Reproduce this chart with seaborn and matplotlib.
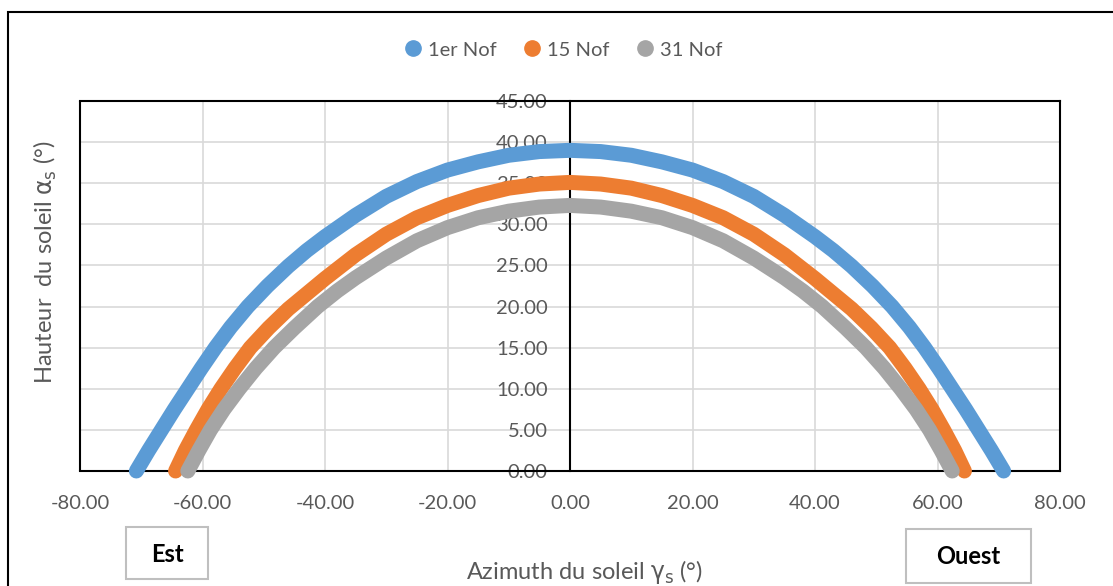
import numpy as np
import pandas as pd
import matplotlib
matplotlib.use("Agg")
import matplotlib.pyplot as plt
import seaborn as sns
from matplotlib.lines import Line2D
from matplotlib.patches import Rectangle
from matplotlib.ticker import FormatStrFormatter

# values (azimuth in deg, sun height in deg)
dates = ['1er Nof', '15 Nof', '31 Nof']
colors = ['#5B9BD5', '#ED7D31', '#A5A5A5']

az_1nov = [-70.8, -68.8, -66.7, -64.6, -62.4, -60.2, -57.9, -55.4, -52.6, -49.4, -46.0,
           -43.0, -40.0, -35.0, -30.0, -25.0, -20.0, -15.0, -10.0, -5.0, 0.0,
           5.0, 10.0, 15.0, 20.0, 25.0, 30.0, 35.0, 40.0, 43.0, 46.0,
           49.4, 52.6, 55.4, 57.9, 60.2, 62.4, 64.6, 66.7, 68.8, 70.8]
h_1nov = [0.0, 2.5, 5.0, 7.5, 10.0, 12.5, 15.0, 17.5, 20.0, 22.5, 24.9,
          26.8, 28.5, 31.1, 33.4, 35.2, 36.6, 37.6, 38.4, 38.85, 39.0,
          38.85, 38.4, 37.6, 36.6, 35.2, 33.4, 31.1, 28.5, 26.8, 24.9,
          22.5, 20.0, 17.5, 15.0, 12.5, 10.0, 7.5, 5.0, 2.5, 0.0]

az_15nov = [-64.4, -62.8, -61.0, -59.1, -57.0, -54.7, -52.2, -49.2, -46.0, -43.0,
            -40.0, -35.0, -30.0, -25.0, -20.0, -15.0, -10.0, -5.0, 0.0,
            5.0, 10.0, 15.0, 20.0, 25.0, 30.0, 35.0, 40.0,
            43.0, 46.0, 49.2, 52.2, 54.7, 57.0, 59.1, 61.0, 62.8, 64.4]
h_15nov = [0.0, 2.5, 5.0, 7.5, 10.0, 12.5, 15.0, 17.4, 19.7, 21.55,
           23.4, 26.3, 28.8, 30.8, 32.3, 33.5, 34.4, 34.9, 35.1,
           34.9, 34.4, 33.5, 32.3, 30.8, 28.8, 26.3, 23.4,
           21.55, 19.7, 17.4, 15.0, 12.5, 10.0, 7.5, 5.0, 2.5, 0.0]

az_31nov = [-62.4, -60.6, -58.7, -56.5, -54.0, -51.3, -48.3, -45.0, -41.2,
            -38.0, -35.0, -30.0, -25.0, -20.0, -15.0, -10.0, -5.0, 0.0,
            5.0, 10.0, 15.0, 20.0, 25.0, 30.0, 35.0, 38.0,
            41.2, 45.0, 48.3, 51.3, 54.0, 56.5, 58.7, 60.6, 62.4]
h_31nov = [0.0, 2.5, 5.0, 7.5, 10.0, 12.5, 15.0, 17.4, 20.0,
           21.9, 23.5, 25.9, 28.0, 29.6, 30.8, 31.6, 32.1, 32.3,
           32.1, 31.6, 30.8, 29.6, 28.0, 25.9, 23.5, 21.9,
           20.0, 17.4, 15.0, 12.5, 10.0, 7.5, 5.0, 2.5, 0.0]

x_ticks = [-80, -60, -40, -20, 0, 20, 40, 60, 80]
y_ticks = [0, 5, 10, 15, 20, 25, 30, 35, 40, 45]

df = pd.concat([
    pd.DataFrame({'azimut': az_1nov, 'hauteur': h_1nov, 'date': dates[0]}),
    pd.DataFrame({'azimut': az_15nov, 'hauteur': h_15nov, 'date': dates[1]}),
    pd.DataFrame({'azimut': az_31nov, 'hauteur': h_31nov, 'date': dates[2]}),
], ignore_index=True)

sns.set_theme(style='white')
plt.rcParams['font.family'] = ['Lato', 'DejaVu Sans']
plt.rcParams['mathtext.fontset'] = 'dejavusans'

W, H = 1113, 586
fig = plt.figure(figsize=(W / 100, H / 100), dpi=100)
fig.patch.set_facecolor('white')

ax = fig.add_axes([80 / W, 1 - 471 / H, 980 / W, 370 / H])

sns.lineplot(data=df, x='azimut', y='hauteur', hue='date', hue_order=dates,
             palette=colors, sort=False, estimator=None, linewidth=10.8,
             solid_capstyle='round', solid_joinstyle='round', legend=False,
             clip_on=False, ax=ax, zorder=3)

ax.set_xlim(-80, 80)
ax.set_ylim(0, 45)
ax.set_xticks(x_ticks)
ax.set_yticks(y_ticks)
ax.xaxis.set_major_formatter(FormatStrFormatter('%.2f'))
ax.yaxis.set_major_formatter(FormatStrFormatter('%.2f'))
ax.set_xlabel('')
ax.set_ylabel('')

ax.grid(True, color='#d9d9d9', linewidth=1.2)
ax.set_axisbelow(True)

for side in ['top', 'right', 'bottom', 'left']:
    ax.spines[side].set_visible(True)
    ax.spines[side].set_color('black')
    ax.spines[side].set_linewidth(1.5)
# vertical axis crosses at azimuth 0
ax.spines['left'].set_position(('data', 0))
ax.spines['left'].set_zorder(2)
ax.axvline(-80, color='black', linewidth=1.5, clip_on=False, zorder=2)

ax.tick_params(axis='x', length=0, pad=17, labelsize=14.5, labelcolor='#595959')
ax.tick_params(axis='y', length=0, pad=16, labelsize=14.5, labelcolor='#595959')

# legend on top
handles = [Line2D([], [], marker='o', linestyle='', color=c, markersize=11) for c in colors]
fig.legend(handles, dates, loc='center', bbox_to_anchor=(563 / W, 1 - 50 / H),
           ncol=3, frameon=False, fontsize=14.5, handlelength=0.9,
           handletextpad=0.3, columnspacing=1.3, labelcolor='#595959')

# axis titles
fig.text(45 / W, 1 - 262 / H, r'Hauteur  du soleil $\mathrm{\alpha}_{\rm s}$ (°)', rotation=90,
         ha='center', va='center', fontsize=17, color='#595959')
fig.text(585 / W, 1 - 572 / H, r'Azimuth du soleil $\mathrm{\gamma}_{\rm s}$ (°)',
         ha='center', va='center', fontsize=17, color='#595959')

# Est / Ouest boxes
fig.add_artist(Rectangle((126 / W, 1 - 579 / H), 82 / W, 52 / H, transform=fig.transFigure,
                         fill=False, edgecolor='#bfbfbf', linewidth=1.5))
fig.text(167 / W, 1 - 555 / H, 'Est', ha='center', va='center', fontsize=17,
         fontweight='bold', color='black')
fig.add_artist(Rectangle((906 / W, 1 - 583 / H), 125 / W, 54 / H, transform=fig.transFigure,
                         fill=False, edgecolor='#bfbfbf', linewidth=1.5))
fig.text(968 / W, 1 - 557 / H, 'Ouest', ha='center', va='center', fontsize=17,
         fontweight='bold', color='black')

# outer chart frame (cut by the image border on the right and bottom)
fig.add_artist(Rectangle((8 / W, -0.1), 1.2, 0.1 + (1 - 12 / H), transform=fig.transFigure,
                         fill=False, edgecolor='black', linewidth=1.5))

fig.savefig('out.png', dpi=100)
plt.close(fig)
